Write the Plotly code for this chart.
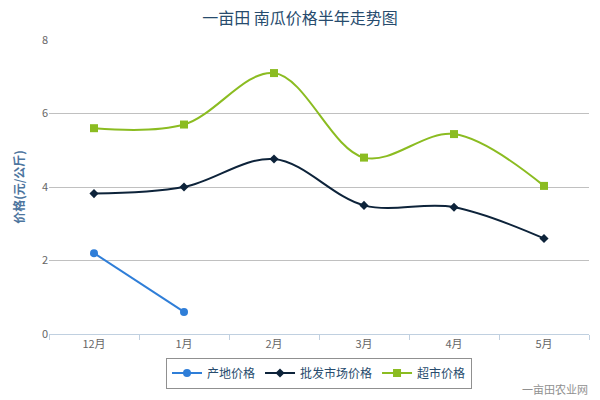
import plotly.graph_objects as go

months = ["12月", "1月", "2月", "3月", "4月", "5月"]
origin_price = [2.2, 0.6, None, None, None, None]
wholesale_price = [3.82, 4.0, 4.76, 3.5, 3.45, 2.6]
supermarket_price = [5.6, 5.7, 7.1, 4.8, 5.44, 4.03]
y_ticks = [0, 2, 4, 6, 8]

CJK = "Noto Sans CJK SC, Lucida Grande, sans-serif"

fig = go.Figure()
fig.add_trace(go.Scatter(x=months, y=origin_price, name="产地价格", mode="lines+markers",
                         line=dict(color="#2f7ed8", width=2, shape="spline", smoothing=1),
                         marker=dict(symbol="circle", size=8, color="#2f7ed8")))
fig.add_trace(go.Scatter(x=months, y=wholesale_price, name="批发市场价格", mode="lines+markers",
                         line=dict(color="#0d233a", width=2, shape="spline", smoothing=1),
                         marker=dict(symbol="diamond", size=7, color="#0d233a")))
fig.add_trace(go.Scatter(x=months, y=supermarket_price, name="超市价格", mode="lines+markers",
                         line=dict(color="#8bbc21", width=2, shape="spline", smoothing=1),
                         marker=dict(symbol="square", size=8, color="#8bbc21")))

fig.update_layout(
    width=600, height=400,
    margin=dict(l=49, r=11, t=40, b=64),
    paper_bgcolor="white", plot_bgcolor="white",
    font=dict(family=CJK),
    title=dict(text="一亩田 南瓜价格半年走势图", x=0.5, xanchor="center", y=0.955, yanchor="middle",
               font=dict(size=16, color="#274b6d", family=CJK)),
    showlegend=True,
    legend=dict(orientation="h", x=0.5, xanchor="center", y=-0.08, yanchor="top",
                bordercolor="#909090", borderwidth=1, bgcolor="white",
                font=dict(size=12, color="#274b6d", family=CJK), itemwidth=30),
    xaxis=dict(type="category", showgrid=False, showline=True, linecolor="#C0D0E0", linewidth=1,
               ticks="outside", tickson="boundaries", ticklen=5, tickcolor="#C0D0E0",
               tickfont=dict(size=11, color="#666666", family=CJK), range=[-0.5, 5.5]),
    yaxis=dict(range=[0, 8], tickvals=y_ticks, showgrid=True, gridcolor="#C0C0C0", gridwidth=1,
               zeroline=False, showline=False, ticks="",
               tickfont=dict(size=11, color="#666666", family=CJK),
               title=dict(text="<b>价格(元/公斤)</b>", font=dict(size=12, color="#4d759e", family=CJK),
                          standoff=14)),
    annotations=[dict(text="一亩田农业网", x=1, xref="paper", xanchor="right", xshift=1,
                      y=0, yref="paper", yanchor="middle", yshift=-55, showarrow=False,
                      font=dict(size=11, color="#909090", family=CJK))],
)

fig.write_html("out.html")
